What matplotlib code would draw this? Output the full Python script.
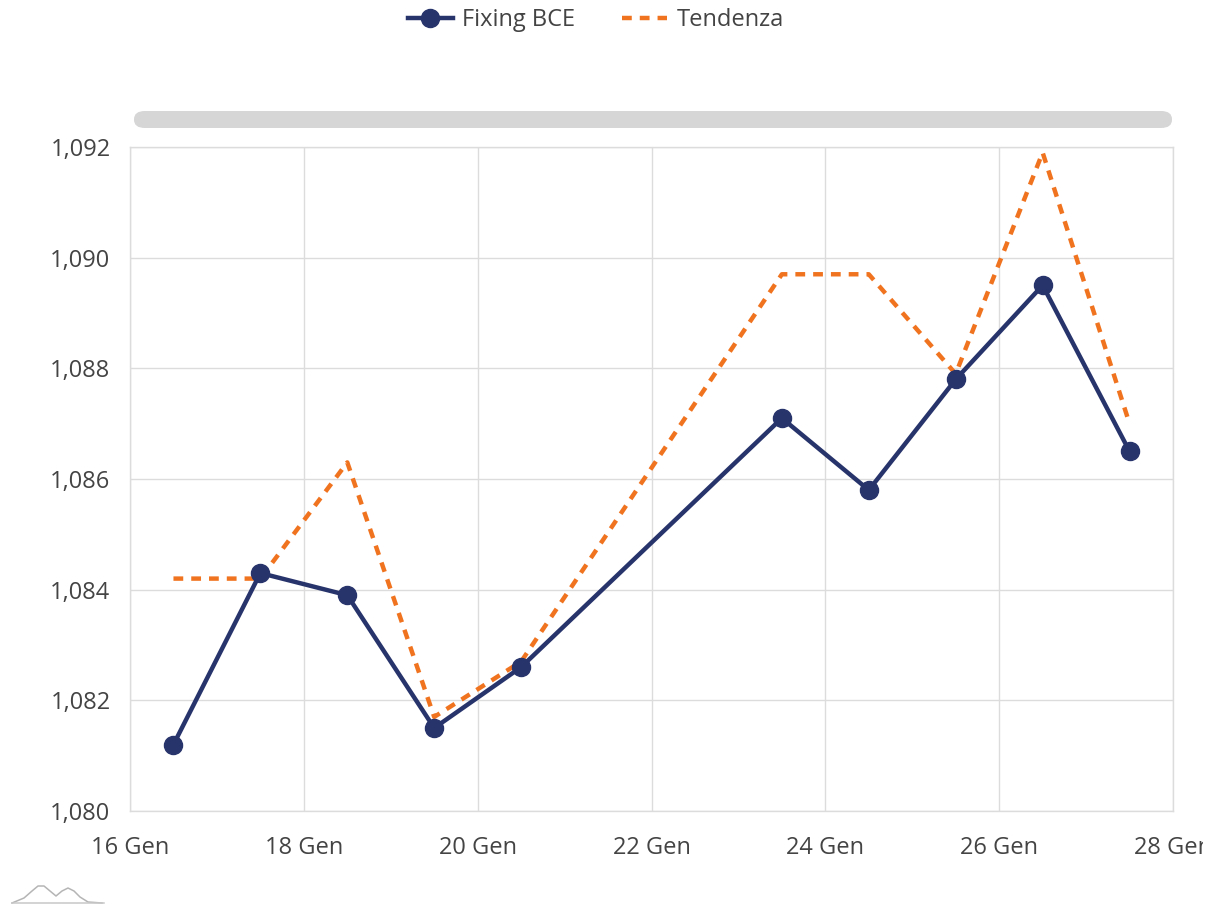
import matplotlib.pyplot as plt
from matplotlib.patches import FancyBboxPatch
from matplotlib.ticker import FuncFormatter
from matplotlib.transforms import Bbox, TransformedBbox

plt.rcParams["font.family"] = ["Open Sans", "DejaVu Sans"]

# giorni di gennaio (a metà giornata) e valori del cambio
giorni = [16.5, 17.5, 18.5, 19.5, 20.5, 23.5, 24.5, 25.5, 26.5, 27.5]
fixing_bce = [1.0812, 1.0843, 1.0839, 1.0815, 1.0826, 1.0871, 1.0858, 1.0878, 1.0895, 1.0865]
tendenza = [1.0842, 1.0842, 1.0863, 1.0817, 1.0827, 1.0897, 1.0897, 1.0879, 1.0919, 1.0870]

tick_giorni = [16, 18, 20, 22, 24, 26, 28]
tick_etichette = [f"{g} Gen" for g in tick_giorni]

BLU = "#27336b"
ARANCIO = "#f07420"
GRIGIO_TESTO = "#444444"
GRIGIO_GRIGLIA = "#dcdcdc"

W, H = 1213, 907
fig = plt.figure(figsize=(W / 100, H / 100), dpi=100)
ax = fig.add_axes([130 / W, (H - 811) / H, (1173 - 130) / W, (811 - 147) / H])

ax.plot(giorni, fixing_bce, color=BLU, linewidth=3.2, marker="o", markersize=13,
        label="Fixing BCE", zorder=3)
ax.plot(giorni, tendenza, color=ARANCIO, linewidth=3.2, linestyle=(0, (2.2, 1.8)),
        label="Tendenza", zorder=2)

ax.set_xlim(16, 28)
ax.set_ylim(1.080, 1.092)
ax.set_xticks(tick_giorni)
ax.set_xticklabels(tick_etichette)
ax.set_yticks([1.080, 1.082, 1.084, 1.086, 1.088, 1.090, 1.092])
ax.yaxis.set_major_formatter(FuncFormatter(lambda v, p: f"{v:.3f}".replace(".", ",")))

ax.grid(True, color=GRIGIO_GRIGLIA, linewidth=1)
ax.set_axisbelow(True)
for spine in ax.spines.values():
    spine.set_color(GRIGIO_GRIGLIA)
    spine.set_linewidth(1)
ax.tick_params(length=0, labelsize=17, colors=GRIGIO_TESTO)
ax.tick_params(axis="y", pad=14)
ax.tick_params(axis="x", pad=18)

# l'ultima etichetta esce dal bordo del grafico
clip = TransformedBbox(Bbox([[0, 0], [1203 / W, 1]]), fig.transFigure)
for lab in ax.get_xticklabels():
    lab.set_clip_on(True)
    lab.set_clip_box(clip)

# barra di scorrimento sopra il grafico
fig.patches.append(FancyBboxPatch((134 / W, (H - 128) / H), (1172 - 134) / W, 17 / H,
                                  boxstyle="round,pad=0,rounding_size=0.009",
                                  transform=fig.transFigure, facecolor="#d6d6d6",
                                  edgecolor="none"))

# logo in basso a sinistra
lx = [12, 24, 32, 38, 44, 50, 56, 62, 68, 74, 80, 88, 102]
ly = [903, 898, 891, 886, 886, 891, 896, 891, 888, 891, 897, 902, 903]
fig.add_artist(plt.Line2D([x / W for x in lx], [(H - y) / H for y in ly],
                          transform=fig.transFigure, color="#b5b5b5", linewidth=1.1))
fig.add_artist(plt.Line2D([12 / W, 104 / W], [(H - 903) / H] * 2,
                          transform=fig.transFigure, color="#c8c8c8", linewidth=1.1))

fig.legend(loc="center", bbox_to_anchor=(596 / W, (H - 20) / H), ncol=2, frameon=False,
           fontsize=17, handlelength=1.9, columnspacing=2.0, handletextpad=0.4,
           labelcolor=GRIGIO_TESTO)

fig.savefig("out.png", dpi=100)
